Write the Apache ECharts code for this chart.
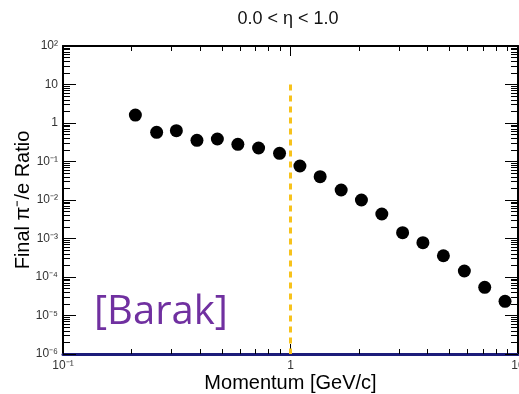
<!DOCTYPE html>
<html>
<head>
<meta charset="utf-8">
<script src="https://cdn.jsdelivr.net/npm/echarts@6/dist/echarts.min.js"></script>
<style>
  html, body { margin: 0; padding: 0; background: #fff; }
  #chart { width: 519px; height: 394px; }
</style>
</head>
<body>
<div id="chart"></div>
<script>
// momentum [GeV/c] and final pi-/e ratio
var momentum = [0.208, 0.258, 0.315, 0.388, 0.477, 0.587, 0.724, 0.895, 1.10, 1.35,
  1.67, 2.05, 2.52, 3.11, 3.82, 4.70, 5.81, 7.14, 8.77]
var ratio = [1.61, 0.573, 0.631, 0.355, 0.384, 0.280, 0.224, 0.163, 0.0764, 0.0403,
  0.0182, 0.0100, 0.00433, 0.00142, 0.000778, 0.000357, 0.000143, 0.000054, 0.0000234]
var cutMomentum = 1
var cutRange = [10, 1e-6]
var xRange = [0.1, 10]
var yRange = [1e-6, 100]

// log minor tick positions (in log10 units) for the overlay axes
function minorTicks(lo, hi) {
  var out = []
  for (var d = lo; d < hi; d++) {
    for (var k = 2; k <= 9; k++) out.push(d + Math.log10(k))
  }
  return out
}

var sup = { '-': '⁻', '0': '⁰', '1': '¹', '2': '²', '3': '³', '4': '⁴', '5': '⁵', '6': '⁶', '7': '⁷', '8': '⁸', '9': '⁹' }
function powLabel(v) {
  var e = Math.round(Math.log10(v))
  if (e === 0) return '1'
  if (e === 1) return '10'
  return '10' + String(e).split('').map(function(c) { return sup[c] }).join('')
}

var font = 'Liberation Sans, Arial, sans-serif'
var chart = echarts.init(document.getElementById('chart'))

function majorLine(color, width) {
  return { show: true, onZero: false, lineStyle: { color: color, width: width } }
}
function minorAxis(pos, lo, hi, isX) {
  return {
    type: 'value', position: pos, min: lo, max: hi,
    axisLine: { show: false, onZero: false },
    axisLabel: { show: false },
    splitLine: { show: false },
    axisTick: { show: true, inside: true, length: isX ? 5 : 7, customValues: minorTicks(lo, hi), lineStyle: { color: '#000', width: 1 } }
  }
}

chart.setOption({
  animation: false,
  title: {
    text: '0.0 < η < 1.0',
    left: 283, top: 5, textAlign: 'center',
    textStyle: { fontFamily: font, fontSize: 18, fontWeight: 'normal', color: '#111' }
  },
  grid: { left: 63, right: 1, top: 46, bottom: 40, outerBoundsMode: 'none', containLabel: false },
  xAxis: [
    {
      type: 'log', position: 'bottom', min: xRange[0], max: xRange[1], splitNumber: 2,
      name: 'Momentum [GeV/c]', nameLocation: 'middle', nameGap: 19, nameMoveOverlap: false,
      nameTextStyle: { fontFamily: font, fontSize: 20, color: '#000' },
      axisLine: majorLine('#1c1c7a', 3),
      axisTick: { show: true, inside: true, length: 10, lineStyle: { color: '#000', width: 1 } },
      axisLabel: { show: true, margin: 6, fontFamily: font, fontSize: 12, color: '#333', formatter: powLabel, hideOverlap: false },
      splitLine: { show: false }
    },
    {
      type: 'log', position: 'top', min: xRange[0], max: xRange[1], splitNumber: 2,
      axisLine: majorLine('#000', 2),
      axisTick: { show: true, inside: true, length: 10, lineStyle: { color: '#000', width: 1 } },
      axisLabel: { show: false },
      splitLine: { show: false }
    },
    minorAxis('bottom', -1, 1, true),
    minorAxis('top', -1, 1, true)
  ],
  yAxis: [
    {
      type: 'log', position: 'left', min: yRange[0], max: yRange[1], splitNumber: 8,
      name: 'Final π⁻/e Ratio', nameLocation: 'middle', nameGap: 30, nameMoveOverlap: false,
      nameTextStyle: { fontFamily: font, fontSize: 20, color: '#000' },
      axisLine: majorLine('#000', 2),
      axisTick: { show: true, inside: true, length: 13, lineStyle: { color: '#000', width: 1 } },
      axisLabel: { show: true, margin: 5, fontFamily: font, fontSize: 12, color: '#333', formatter: powLabel },
      splitLine: { show: false }
    },
    {
      type: 'log', position: 'right', min: yRange[0], max: yRange[1], splitNumber: 8,
      axisLine: majorLine('#000', 2),
      axisTick: { show: true, inside: true, length: 13, lineStyle: { color: '#000', width: 1 } },
      axisLabel: { show: false },
      splitLine: { show: false }
    },
    minorAxis('left', -6, 2, false),
    minorAxis('right', -6, 2, false)
  ],
  graphic: [
    {
      type: 'text', left: 94, top: 293,
      style: { text: '[Barak]', fontFamily: 'Open Sans, Noto Sans, sans-serif', fontSize: 40, fill: '#7030a0' }
    }
  ],
  series: [
    {
      type: 'scatter',
      xAxisIndex: 0, yAxisIndex: 0,
      symbol: 'circle', symbolSize: 13,
      itemStyle: { color: '#000', opacity: 1 },
      data: momentum.map(function(m, i) { return [m, ratio[i]] }),
      z: 5,
      markLine: {
        silent: true, symbol: 'none', label: { show: false },
        lineStyle: { color: '#f7c21b', width: 3, type: [6, 5] },
        data: [[{ coord: [cutMomentum, cutRange[0]] }, { coord: [cutMomentum, cutRange[1]] }]]
      }
    }
  ]
})
</script>
</body>
</html>
